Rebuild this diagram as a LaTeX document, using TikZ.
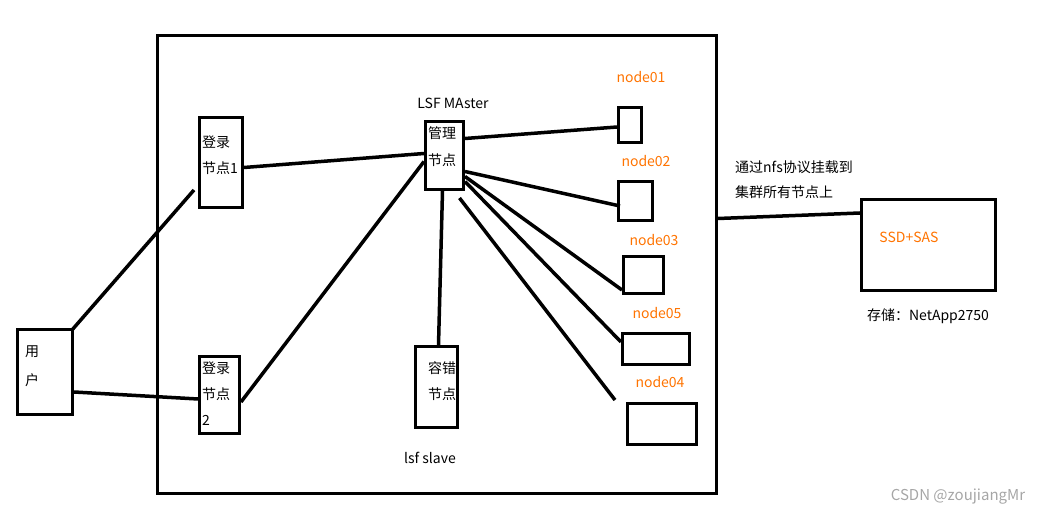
\documentclass[tikz,border=0pt]{standalone}
\usepackage{fontspec}
\newfontfamily\cjk{Noto Sans CJK SC}
\usetikzlibrary{calc}
\begin{document}
\begin{tikzpicture}[x=1pt,y=-1pt,
 box/.style={draw,line width=3pt,inner sep=0pt,anchor=north west},
 ln/.style={line width=3.5pt},
 t/.style={font=\cjk\fontsize{14}{16}\selectfont,inner sep=0pt,anchor=west},
 o/.style={t,text=orange!90!red,anchor=center}]
\useasboundingbox (0,0) rectangle (1061,518);
\node[box,minimum width=559,minimum height=458] (big) at (156,34) {};
\node[box,minimum width=55,minimum height=85] (u) at (16,328) {};
\node[box,minimum width=43,minimum height=90] (l1) at (198,116) {};
\node[box,minimum width=40,minimum height=77] (l2) at (198,355) {};
\node[box,minimum width=38,minimum height=68] (m) at (424,120) {};
\node[box,minimum width=42,minimum height=81] (s) at (414,345) {};
\node[box,minimum width=23,minimum height=35] (n1) at (617,106) {};
\node[box,minimum width=34,minimum height=39] (n2) at (617,180) {};
\node[box,minimum width=40,minimum height=37] (n3) at (622,255) {};
\node[box,minimum width=67,minimum height=31] (n5) at (621,332) {};
\node[box,minimum width=69,minimum height=41] (n4) at (626,402) {};
\node[box,minimum width=134,minimum height=91] (ssd) at (860,198) {};
% texts
\node[t] (tu1) at (25,352) {用};
\node[t] (tu2) at (25,380) {户};
\node[t] (ta1) at (202,142) {登录};
\node[t] (ta2) at (202,168) {节点1};
\node[t] (tb1) at (202,368) {登录};
\node[t] (tb2) at (202,394) {节点};
\node[t] (tb3) at (202,420) {2};
\node[t] (tm1) at (428,133) {管理};
\node[t] (tm2) at (428,160) {节点};
\node[t] (ts1) at (428,368) {容错};
\node[t] (ts2) at (428,394) {节点};
\node[t,anchor=center] (lm) at (453,103) {LSF MAster};
\node[t,anchor=center] (ls) at (430,458) {lsf slave};
\node[o] (o1) at (641,77) {node01};
\node[o] (o2) at (646,161) {node02};
\node[o] (o3) at (654,240) {node03};
\node[o] (o5) at (657,313) {node05};
\node[o] (o4) at (660,382) {node04};
\node[o] (os) at (909,237) {SSD+SAS};
\node[t,anchor=center] (st) at (928,316) {存储：NetApp2750};
\node[t] (nf1) at (735,167) {通过nfs协议挂载到};
\node[t] (nf2) at (735,192) {集群所有节点上};
\node[t,anchor=center,text=gray!70,font=\cjk\fontsize{15}{17}\selectfont] (wm) at (958,497) {CSDN @zoujiangMr};
% connectors
\draw[ln] ($(u.north east)+(-2,2)$) -- ($(l1.south west)+(-4,-19)$);
\draw[ln] ($(u.east)+(0,20)$) -- ($(l2.west)+(0,4)$);
\draw[ln] ($(l1.east)+(0,5)$) -- ($(m.west)+(0,-2)$);
\draw[ln] ($(l2.east)+(0,7)$) -- ($(m.west)+(0,6)$);
\draw[ln] ($(m.east)+(0,-17)$) -- ($(n1.west)+(0,2)$);
\draw[ln] ($(m.east)+(0,16)$) -- ($(n2.west)+(3,5)$);
\draw[ln] ($(m.east)+(0,21)$) -- ($(n3.south west)+(0,-5)$);
\draw[ln] ($(m.east)+(0,26)$) -- ($(n5.west)+(0,-7)$);
\draw[ln] ($(m.south)+(15,7)$) -- ($(n4.north west)+(-11,-2)$);
\draw[ln] ($(m.south)+(-2,0)$) -- ($(s.north)+(2,0)$);
\draw[ln] ($(big.east)+(0,-46)$) -- ($(ssd.west)+(0,-32)$);
\end{tikzpicture}
\end{document}
